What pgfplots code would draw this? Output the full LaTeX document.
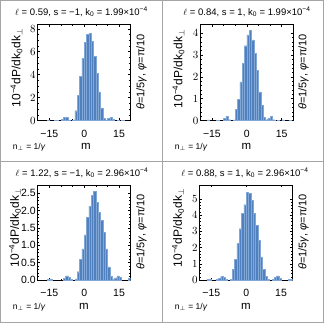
\documentclass[border=0pt]{standalone}
\usepackage{fontspec}
\setmainfont{Liberation Sans}
\usepackage{pgfplots}
\pgfplotsset{compat=1.18}
\definecolor{barblue}{RGB}{80,128,190}
\definecolor{baredge}{RGB}{130,168,215}
\definecolor{framegray}{RGB}{165,165,165}
\newcommand\fs[1]{\fontsize{#1}{#1}\selectfont}

\pgfplotsset{
  panel/.style={
    scale only axis, width=93pt, height=96pt,
    xmin=-20, xmax=20, ymin=0,
    xtick={-15,0,15}, xticklabels={−15,0,15},
    minor x tick num=2,
    tick label style={font=\fs{10.5}},
    xticklabel style={yshift=-6pt},
    yticklabel style={xshift=1.5pt},
    tick align=inside, major tick length=2.5pt, minor tick length=1.5pt,
    tick style={black, line width=0.4pt},
    axis line style={line width=0.5pt},
  },
  hbar/.style={ybar, bar width=1, fill=barblue, draw=baredge, line width=0.25pt},
}

\begin{document}
\begin{tikzpicture}
\useasboundingbox (0pt,0pt) rectangle (324pt,-323pt);

% panel 1
\begin{axis}[panel, at={(37.7pt,-120.5pt)}, anchor=south west, ymax=8.37,
  ytick={0,2,4,6,8}, minor y tick num=3]
\addplot[hbar] coordinates {
 (-15.5,0.02) (-12.5,0.03) (-11.5,0.03) (-9.5,0.08) (-8.5,0.3) (-7.5,0.28) (-6.5,0.06) (-4.5,0.05)
 (-3.5,0.85) (-2.5,2.2) (-1.5,3.85) (-0.5,5.4) (0.5,6.8) (1.5,7.5) (2.5,7.6) (3.5,6.9)
 (4.5,5.6) (5.5,4.1) (6.5,2.5) (7.5,1.1) (8.5,0.2)
 (9.5,0.05) (10.5,0.2) (11.5,0.3) (12.5,0.08) (14.5,0.03) (16.5,0.02)
};
\end{axis}

% panel 2
\begin{axis}[panel, at={(200.3pt,-120.5pt)}, anchor=south west, ymax=4.4,
  ytick={0,1,2,3,4}, minor y tick num=4]
\addplot[hbar] coordinates {
 (-16.5,0.03) (-12.5,0.02) (-9.5,0.1) (-8.5,0.2) (-7.5,0.04) (-5.5,0.03)
 (-4.5,0.51) (-3.5,0.97) (-2.5,1.77) (-1.5,2.61) (-0.5,3.43) (0.5,3.92) (1.5,4.12) (2.5,3.69)
 (3.5,3.07) (4.5,2.31) (5.5,1.31) (6.5,0.7) (7.5,0.16)
 (8.5,0.04) (9.5,0.1) (10.5,0.2) (11.5,0.04) (13.5,0.02) (15.5,0.03) (18.5,0.02)
};
\end{axis}

% panel 3
\begin{axis}[panel, at={(37.7pt,-280pt)}, anchor=south west, height=95pt, ymax=2.74,
  ytick={0,0.5,1,1.5,2,2.5}, yticklabels={0.0,0.5,1.0,1.5,2.0,2.5}, minor y tick num=4]
\addplot[hbar] coordinates {
 (-15.5,0.02) (-14.5,0.03) (-8.5,0.05) (-7.5,0.12) (-6.5,0.08) (-5.5,0.02) (-3.5,0.03)
 (-2.5,0.24) (-1.5,0.6) (-0.5,0.9) (0.5,1.3) (1.5,1.8) (2.5,2.13) (3.5,2.44) (4.5,2.55)
 (5.5,2.24) (6.5,1.96) (7.5,1.72) (8.5,1.38) (9.5,0.9) (10.5,0.38) (11.5,0.1)
 (12.5,0.03) (13.5,0.06) (14.5,0.12) (15.5,0.08) (19.5,0.04)
};
\end{axis}

% panel 4
\begin{axis}[panel, at={(199.7pt,-280pt)}, anchor=south west, height=95pt, ymax=5.85,
  ytick={0,1,2,3,4,5}, minor y tick num=4]
\addplot[hbar] coordinates {
 (-16.5,0.03) (-15.5,0.03) (-12.5,0.04) (-11.5,0.12) (-10.5,0.22) (-9.5,0.15) (-8.5,0.03) (-6.5,0.04)
 (-5.5,0.66) (-4.5,1.27) (-3.5,2.24) (-2.5,3.16) (-1.5,4.09) (-0.5,4.64) (0.5,5.4) (1.5,5.35)
 (2.5,4.9) (3.5,4.09) (4.5,3.37) (5.5,2.44) (6.5,1.42) (7.5,0.66) (8.5,0.23)
 (9.5,0.04) (11.5,0.04) (12.5,0.15) (13.5,0.25) (14.5,0.1) (18.5,0.05) (19.5,0.05)
};
\end{axis}

% titles
\node[font=\fs{9.5}] at (81.5pt,-12pt) {$\ell$ = 0.59, s = −1, k\textsubscript{0} = 1.99×10\textsuperscript{−4}};
\node[font=\fs{9.5}] at (247pt,-12pt) {$\ell$ = 0.84, s = 1, k\textsubscript{0} = 1.99×10\textsuperscript{−4}};
\node[font=\fs{9.5}] at (82pt,-173pt) {$\ell$ = 1.22, s = −1, k\textsubscript{0} = 2.96×10\textsuperscript{−4}};
\node[font=\fs{9.5}] at (245pt,-173pt) {$\ell$ = 0.88, s = 1, k\textsubscript{0} = 2.96×10\textsuperscript{−4}};

% y labels
\foreach \px/\py in {16.5/-68, 178.5/-69, 15/-228, 178/-228}
  \node[font=\fs{12}, rotate=90] at (\px pt,\py pt) {10\textsuperscript{−4}dP/dk\textsubscript{0}dk\textsubscript{$\perp$}};
% right labels
\foreach \px/\py in {141.5/-72, 303.5/-72, 141.5/-232, 303.5/-232}
  \node[font=\fs{11}, rotate=90] at (\px pt,\py pt) {\itshape θ\upshape=1/5\itshape γ\upshape, \itshape φ\upshape=π/10};
% bottom labels
\foreach \px/\py in {29/-147, 191/-147, 29/-307, 191/-307}
  \node[font=\fs{8.5}] at (\px pt,\py pt) {n\textsubscript{$\perp$} = 1/\itshape γ};
\foreach \px/\py in {86/-146, 246.5/-146, 84/-306, 246/-306}
  \node[font=\fs{11.5}] at (\px pt,\py pt) {m};

% frame
\draw[framegray, line width=0.8pt] (0.5pt,-0.5pt) rectangle (323.5pt,-322.5pt);
\draw[framegray, line width=0.8pt] (162pt,-0.5pt) -- (162pt,-322.5pt);
\draw[framegray, line width=0.8pt] (0.5pt,-161pt) -- (323.5pt,-161pt);
\end{tikzpicture}
\end{document}
